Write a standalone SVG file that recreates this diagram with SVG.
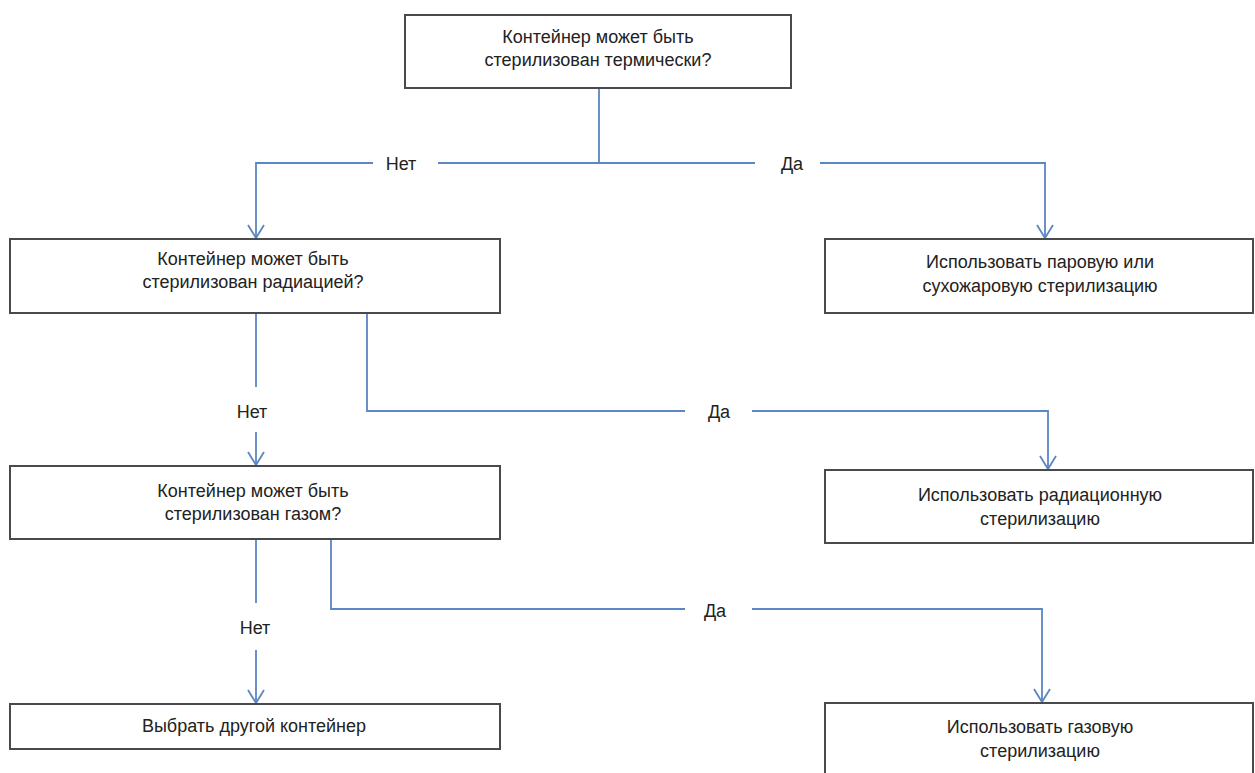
<svg xmlns="http://www.w3.org/2000/svg" width="1255" height="773" viewBox="0 0 1255 773">
  <style>
    .box { fill: #ffffff; stroke: #4a4a4a; stroke-width: 2; }
    .txt { font-family: "Liberation Sans", Arial, sans-serif; font-size: 18px; fill: #222222; text-anchor: middle; }
    .conn { fill: none; stroke: #5b87c2; stroke-width: 1.8; }
  </style>
  <defs>
    <marker id="arr" viewBox="0 0 16 18" markerWidth="16" markerHeight="18" refX="14" refY="9" orient="auto" markerUnits="userSpaceOnUse">
      <path d="M1,1 L14,9 L1,17" fill="none" stroke="#5b87c2" stroke-width="1.8"/>
    </marker>
  </defs>
  <rect width="1255" height="773" fill="#ffffff"/>

  <g id="connectors">
    <path class="conn" d="M599,88 V163 H438"/>
    <path class="conn" d="M599,163 H755"/>
    <path class="conn" d="M373,163 H256 V238" marker-end="url(#arr)"/>
    <path class="conn" d="M820,163 H1045 V238" marker-end="url(#arr)"/>
    <path class="conn" d="M256,313 V387"/>
    <path class="conn" d="M256,432 V465" marker-end="url(#arr)"/>
    <path class="conn" d="M367,313 V411 H685"/>
    <path class="conn" d="M752,411 H1048 V469" marker-end="url(#arr)"/>
    <path class="conn" d="M256,539 V603"/>
    <path class="conn" d="M256,650 V703" marker-end="url(#arr)"/>
    <path class="conn" d="M331,539 V609 H685"/>
    <path class="conn" d="M752,609 H1042 V702" marker-end="url(#arr)"/>
    <text class="txt" x="401" y="170">Нет</text>
    <text class="txt" x="792" y="170">Да</text>
    <text class="txt" x="252" y="418">Нет</text>
    <text class="txt" x="719" y="418">Да</text>
    <text class="txt" x="255" y="634">Нет</text>
    <text class="txt" x="715" y="617">Да</text>
  </g>

  <g id="node-thermal">
    <rect class="box" x="405" y="15" width="386" height="73"/>
    <text class="txt" x="598" y="43">Контейнер может быть</text>
    <text class="txt" x="598" y="66">стерилизован термически?</text>
  </g>
  <g id="node-radiation-q">
    <rect class="box" x="10" y="239" width="490" height="74"/>
    <text class="txt" x="253" y="265">Контейнер может быть</text>
    <text class="txt" x="253" y="288">стерилизован радиацией?</text>
  </g>
  <g id="node-steam">
    <rect class="box" x="825" y="239" width="428" height="74"/>
    <text class="txt" x="1040" y="268">Использовать паровую или</text>
    <text class="txt" x="1040" y="292">сухожаровую стерилизацию</text>
  </g>
  <g id="node-gas-q">
    <rect class="box" x="10" y="466" width="490" height="73"/>
    <text class="txt" x="253" y="497">Контейнер может быть</text>
    <text class="txt" x="253" y="520">стерилизован газом?</text>
  </g>
  <g id="node-radiation">
    <rect class="box" x="825" y="470" width="428" height="73"/>
    <text class="txt" x="1040" y="501">Использовать радиационную</text>
    <text class="txt" x="1040" y="525">стерилизацию</text>
  </g>
  <g id="node-other">
    <rect class="box" x="10" y="704" width="490" height="45"/>
    <text class="txt" x="254" y="732">Выбрать другой контейнер</text>
  </g>
  <g id="node-gas">
    <rect class="box" x="825" y="703" width="428" height="90"/>
    <text class="txt" x="1040" y="733">Использовать газовую</text>
    <text class="txt" x="1040" y="757">стерилизацию</text>
  </g>
</svg>
